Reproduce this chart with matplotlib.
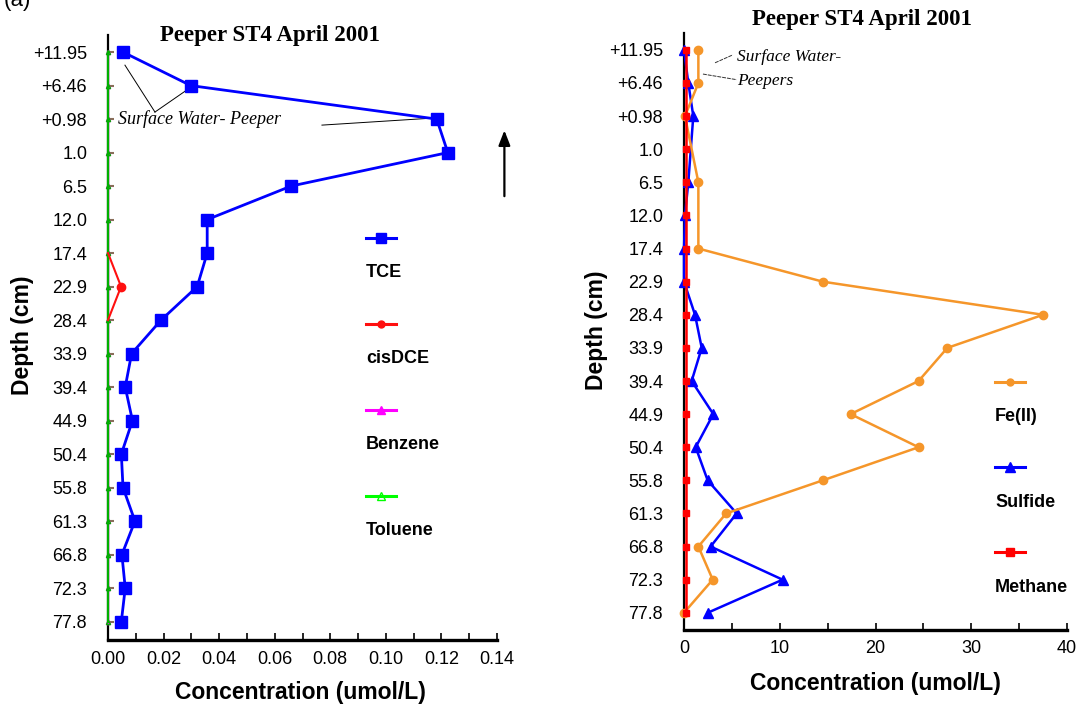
import numpy as np
import matplotlib
matplotlib.use("Agg")
import matplotlib.pyplot as plt
from matplotlib.lines import Line2D
from matplotlib.ticker import MultipleLocator, FormatStrFormatter

depth_labels = ["+11.95", "+6.46", "+0.98", "1.0", "6.5", "12.0", "17.4", "22.9",
                "28.4", "33.9", "39.4", "44.9", "50.4", "55.8", "61.3", "66.8",
                "72.3", "77.8"]

# Left panel (umol/L)
tce = [0.0054, 0.0298, 0.1183, 0.1223, 0.0659, 0.0357, 0.0357, 0.0321, 0.0191,
       0.0085, 0.0062, 0.0088, 0.0048, 0.0054, 0.0097, 0.0050, 0.0062, 0.0048]
cisdce = [np.nan, np.nan, np.nan, np.nan, np.nan, np.nan, 0.0, 0.0047, 0.0,
          np.nan, np.nan, np.nan, np.nan, np.nan, np.nan, np.nan, np.nan, np.nan]
benzene = [0.0] * 18
toluene = [0.0] * 18

# Right panel (umol/L)
fe2 = [1.5, 1.5, 0.1, np.nan, 1.5, np.nan, 1.5, 14.5, 37.5, 27.5, 24.5, 17.4,
       24.5, 14.5, 4.4, 1.5, 3.0, 0.0]
sulfide = [0.0, 0.45, 0.97, np.nan, 0.45, 0.1, 0.0, 0.0, 1.15, 1.85, 0.8, 3.06,
           1.22, 2.47, 5.5, 2.78, 10.3, 2.47]
methane = [0.17] * 18

SANS = "Liberation Sans"
SERIF = "Liberation Serif"
TICK_FS = 13
LAB_FS = 16.5
TITLE_FS = 16.5
LEG_FS = 13

fig = plt.figure(figsize=(10.8, 7.06), dpi=100)
axL = fig.add_axes([108/1080, 1-640/706, 389/1080, 605/706])
axR = fig.add_axes([684/1080, 1-630/706, 383/1080, 597/706])

ypos = np.arange(len(depth_labels))


def valid(vals):
    v = np.asarray(vals, dtype=float)
    m = ~np.isnan(v)
    return v[m], ypos[m]


def style_axis(ax, xmax, major, minor, fmt, ylow, yhigh, tickcol):
    ax.set_ylim(yhigh, ylow)
    ax.set_xlim(0, xmax)
    ax.set_yticks(ypos)
    ax.set_yticklabels(depth_labels, fontfamily=SANS, fontsize=TICK_FS)
    ax.xaxis.set_major_locator(MultipleLocator(major))
    ax.xaxis.set_minor_locator(MultipleLocator(minor))
    ax.xaxis.set_major_formatter(FormatStrFormatter(fmt))
    for lab in ax.get_xticklabels():
        lab.set_fontfamily(SANS)
        lab.set_fontsize(TICK_FS)
    ax.tick_params(axis="x", which="both", direction="in", length=5, width=1.2, pad=8)
    ax.tick_params(axis="y", direction="in", length=4, width=1.5, pad=15, colors=tickcol,
                   labelcolor="black")
    for s in ("top", "right"):
        ax.spines[s].set_visible(False)
    ax.spines["bottom"].set_linewidth(2.4)
    ax.spines["left"].set_linewidth(1.6)


# ---------------- Left panel ----------------
v, y = valid(toluene)
axL.plot(v, y, color="#00b000", lw=1.6, marker="^", mfc="none", ms=3, zorder=4, clip_on=False)
v, y = valid(benzene)
axL.plot(v, y, color="#ff00ff", lw=1.0, marker="^", ms=3, zorder=3, clip_on=False)
v, y = valid(cisdce)
axL.plot(v, y, color="#ff1010", lw=1.5, marker="o", ms=6, markevery=[1], zorder=5,
         clip_on=False)
v, y = valid(tce)
axL.plot(v, y, color="#0000ff", lw=2.0, marker="s", ms=8.5, zorder=6, clip_on=False)

style_axis(axL, 0.14, 0.02, 0.01, "%.2f", -0.51, 17.55, "#8a6e5a")

axL.text(0.416, 1.0, "Peeper ST4 April 2001", transform=axL.transAxes, ha="center",
         va="center", fontfamily=SERIF, fontweight="bold", fontsize=TITLE_FS)
axL.set_xlabel("Concentration (umol/L)", fontfamily=SANS, fontweight="bold", fontsize=LAB_FS)
axL.xaxis.set_label_coords(0.494, -0.068)
axL.set_ylabel("Depth (cm)", fontfamily=SANS, fontweight="bold", fontsize=LAB_FS)
axL.yaxis.set_label_coords(-0.19, 0.504)

# annotation on left panel
axL.text(0.0036, 2, "Surface Water- Peeper", fontfamily=SERIF, style="italic",
         fontsize=13, va="center", ha="left")
for (x0, y0, x1, y1) in [(0.0169, 1.79, 0.0061, 0.39), (0.0169, 1.79, 0.0284, 1.13),
                         (0.077, 2.18, 0.117, 1.97)]:
    axL.plot([x0, x1], [y0, y1], color="black", lw=0.7, zorder=2)

# arrow
axL.annotate("", xy=(1.019, 0.847), xytext=(1.019, 0.729), xycoords="axes fraction",
             textcoords="axes fraction",
             arrowprops=dict(arrowstyle="-|>,head_width=0.35,head_length=0.9",
                             color="black", lw=1.6), annotation_clip=False)

# left legend
leg_left = [("TCE", "#0000ff", "s", "#0000ff", 7),
            ("cisDCE", "#ff1010", "o", "#ff1010", 5),
            ("Benzene", "#ff00ff", "^", "#ff00ff", 6),
            ("Toluene", "#00ff00", "^", "none", 6)]
for i, (lab, col, mk, mfc, ms) in enumerate(leg_left):
    yy = 0.6645 - 0.1421 * i
    axL.add_line(Line2D([0.663, 0.7015, 0.740], [yy, yy, yy], transform=axL.transAxes,
                        color=col, lw=2.2, marker=mk, markevery=[1], mfc=mfc, mec=col,
                        ms=ms, clip_on=False))
    axL.text(0.663, yy - 0.057, lab, transform=axL.transAxes, fontfamily=SANS,
             fontweight="bold", fontsize=LEG_FS, va="center", ha="left")

# ---------------- Right panel ----------------
v, y = valid(sulfide)
axR.plot(v, y, color="#0000ff", lw=1.8, marker="^", ms=7, zorder=5, clip_on=False)
v, y = valid(fe2)
axR.plot(v, y, color="#f5962a", lw=1.8, marker="o", ms=6, zorder=6, clip_on=False)
v, y = valid(methane)
axR.plot(v, y, color="#ff0000", lw=1.8, marker="s", ms=5, zorder=7, clip_on=False)

style_axis(axR, 40, 10, 5, "%d", -0.51, 17.52, "black")
axR.tick_params(axis="x", which="both", pad=7)

axR.text(0.465, 1.022, "Peeper ST4 April 2001", transform=axR.transAxes, ha="center",
         va="center", fontfamily=SERIF, fontweight="bold", fontsize=TITLE_FS)
axR.set_xlabel("Concentration (umol/L)", fontfamily=SANS, fontweight="bold", fontsize=LAB_FS)
axR.xaxis.set_label_coords(0.499, -0.071)
axR.set_ylabel("Depth (cm)", fontfamily=SANS, fontweight="bold", fontsize=LAB_FS)
axR.yaxis.set_label_coords(-0.198, 0.5025)

axR.text(5.5, 0.21, "Surface Water-", fontfamily=SERIF, style="italic", fontsize=12.5,
         va="center", ha="left")
axR.text(5.5, 0.94, "Peepers", fontfamily=SERIF, style="italic", fontsize=12.5,
         va="center", ha="left")
axR.plot([3.24, 5.1], [0.39, 0.15], color="#333333", lw=0.7, ls=(0, (4, 1)))
axR.plot([1.98, 5.5], [0.73, 0.9], color="#333333", lw=0.7, ls=(0, (4, 1)))

leg_right = [("Fe(II)", "#f5962a", "o", 5),
             ("Sulfide", "#0000ff", "^", 7),
             ("Methane", "#ff0000", "s", 6)]
for i, (lab, col, mk, ms) in enumerate(leg_right):
    yy = 0.4154 - 0.1424 * i
    axR.add_line(Line2D([0.812, 0.851, 0.890], [yy, yy, yy], transform=axR.transAxes,
                        color=col, lw=2.2, marker=mk, markevery=[1], ms=ms, clip_on=False))
    axR.text(0.812, yy - 0.0586, lab, transform=axR.transAxes, fontfamily=SANS,
             fontweight="bold", fontsize=LEG_FS, va="center", ha="left")

fig.text(0.003, 0.999, "(a)", fontfamily=SANS, fontsize=16, va="center", ha="left")

fig.savefig("out.png", dpi=100)
